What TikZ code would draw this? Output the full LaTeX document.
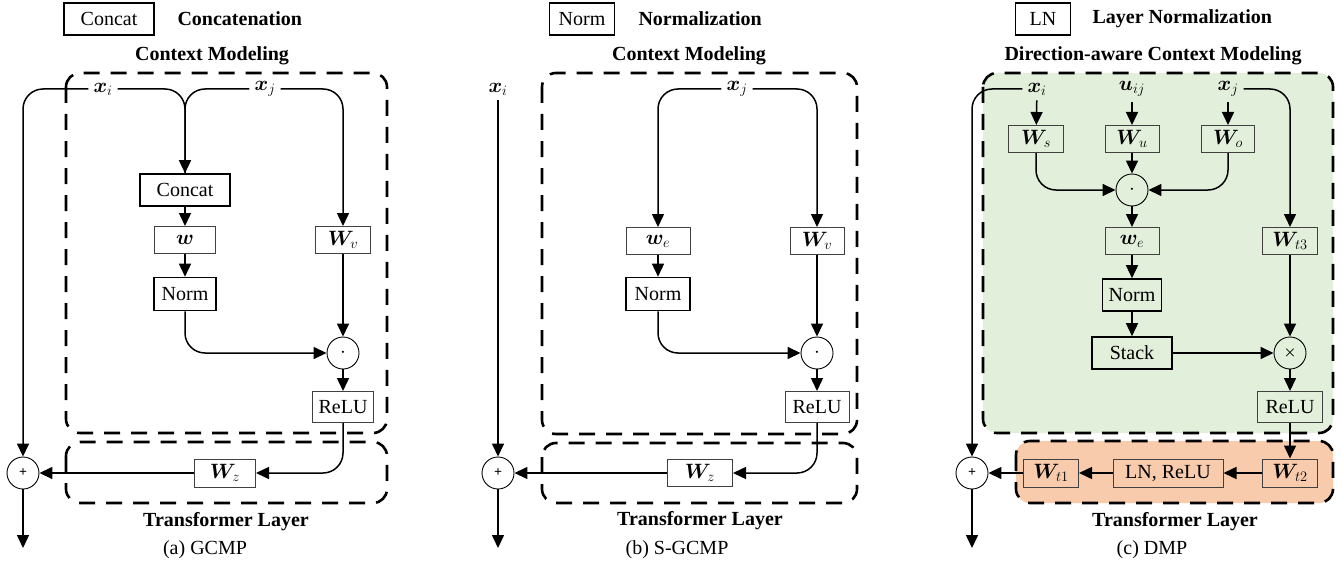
\documentclass[tikz,border=0pt]{standalone}
\usepackage{amsmath}
\usepackage{bm}
\usepackage{fontspec}
\setmainfont{Liberation Serif}
\usetikzlibrary{arrows.meta}
\definecolor{bgGreen}{HTML}{E2EFDA}
\definecolor{bgOrange}{HTML}{F7CBAC}
\begin{document}
\begin{tikzpicture}[x=1pt,y=-1pt,
  every node/.style={font=\fontsize{20}{24}\selectfont},
  thickbox/.style={draw, line width=1.6pt, minimum height=32pt, inner sep=0pt},
  thinbox/.style={draw=black!75, line width=1pt, minimum height=27pt, inner sep=0pt},
  mth/.style={font=\fontsize{22}{24}\selectfont},
  opcirc/.style={circle, draw, line width=0.9pt, minimum size=32pt, inner sep=0pt},
  lbl/.style={inner sep=5pt, font=\fontsize{22}{24}\selectfont},
  title/.style={font=\fontsize{20}{24}\selectfont\bfseries},
  smallop/.style={font=\fontsize{14}{14}\selectfont},
  arr/.style={line width=1.5pt, -{Triangle[length=13pt,width=12pt]}},
  ln/.style={line width=1.5pt},
  region/.style={line width=2.6pt, dash pattern=on 16pt off 11pt, rounded corners=14pt},
  rc/.style={rounded corners=20pt},
]
\useasboundingbox (0,0) rectangle (1343,567);

% ================= (a) GCMP =================
\draw[region] (66,73) rectangle (387,433);
\draw[region] (66,442) rectangle (387,503);
\node[thickbox, minimum width=90pt] (legA) at (109,19) {Concat};
\node[title, anchor=west] (legAt) at (174,19) {Concatenation};
\node[title] (cmA) at (212,56) {Context Modeling};
\node[lbl] (xiA) at (103,89) {$\bm{x}_i$};
\node[lbl] (xjA) at (265,89) {$\bm{x}_j$};
\node[thickbox, minimum width=90pt] (concatA) at (185,190) {Concat};
\node[thinbox, mth, minimum width=61pt] (wA) at (185,240) {$\bm{w}$};
\node[thinbox, mth, minimum width=55pt] (wvA) at (343,240) {$\bm{W}_v$};
\node[thickbox, minimum width=62pt, minimum height=33pt] (normA) at (185,294) {Norm};
\node[opcirc] (dotA) at (343,353) {$\cdot$};
\node[thinbox, minimum width=61pt, minimum height=31pt] (reluA) at (343,407) {ReLU};
\node[thinbox, mth, minimum width=61pt, minimum height=28pt] (wzA) at (225,473) {$\bm{W}_z$};
\node[opcirc, smallop] (plusA) at (23,473) {\textbf{+}};
\coordinate (outA) at (23,548);
\node[title] (tlA) at (226,522) {Transformer Layer};
\node (capA) at (205,550) {(a) GCMP};

\draw[arr, rc] (xiA.west) -| (plusA.north);
\draw[arr, rc] (xiA.east) -| (concatA.north);
\draw[ln, rc] (xjA.west) -| (concatA.north);
\draw[arr, rc] (xjA.east) -| (wvA.north);
\draw[arr] (concatA) -- (wA);
\draw[arr] (wA) -- (normA);
\draw[arr, rc] (normA.south) |- (dotA.west);
\draw[arr] (wvA) -- (dotA);
\draw[arr] (dotA) -- (reluA);
\draw[arr, rc] (reluA.south) |- (wzA.east);
\draw[arr] (wzA) -- (plusA);
\draw[arr] (plusA) -- (outA);

% ================= (b) S-GCMP =================
\draw[region] (542,73) rectangle (857,434);
\draw[region] (542,443) rectangle (857,503);
\node[thickbox, minimum width=65pt] (legB) at (582,19) {Norm};
\node[title, anchor=west] (legBt) at (635,19) {Normalization};
\node[title] (cmB) at (689,56) {Context Modeling};
\node[lbl] (xiB) at (498,89) {$\bm{x}_i$};
\node[lbl] (xjB) at (737,89) {$\bm{x}_j$};
\node[thinbox, mth, minimum width=64pt] (weB) at (658,241) {$\bm{w}_e$};
\node[thinbox, mth, minimum width=54pt] (wvB) at (817,241) {$\bm{W}_v$};
\node[thickbox, minimum width=64pt, minimum height=33pt] (normB) at (658,294) {Norm};
\node[opcirc] (dotB) at (817,353) {$\cdot$};
\node[thinbox, minimum width=64pt, minimum height=31pt] (reluB) at (817,407) {ReLU};
\node[thinbox, mth, minimum width=65pt, minimum height=27pt] (wzB) at (700,473) {$\bm{W}_z$};
\node[opcirc, smallop] (plusB) at (498,473) {\textbf{+}};
\coordinate (outB) at (498,548);
\node[title] (tlB) at (700,521) {Transformer Layer};
\node (capB) at (677,550) {(b) S-GCMP};

\draw[arr] (xiB) -- (plusB);
\draw[arr, rc] (xjB.west) -| (weB.north);
\draw[arr, rc] (xjB.east) -| (wvB.north);
\draw[arr] (weB) -- (normB);
\draw[arr, rc] (normB.south) |- (dotB.west);
\draw[arr] (wvB) -- (dotB);
\draw[arr] (dotB) -- (reluB);
\draw[arr, rc] (reluB.south) |- (wzB.east);
\draw[arr] (wzB) -- (plusB);
\draw[arr] (plusB) -- (outB);

% ================= (c) DMP =================
\draw[region, fill=bgGreen] (983,73) rectangle (1333,433);
\draw[region, fill=bgOrange] (1016,441) rectangle (1333,503);
\node[thickbox, minimum width=55pt] (legC) at (1043,19) {LN};
\node[title, anchor=west] (legCt) at (1089,19) {Layer Normalization};
\node[title] (cmC) at (1153,56) {Direction-aware Context Modeling};
\node[lbl] (xiC) at (1037,89) {$\bm{x}_i$};
\node[lbl] (uC) at (1132,89) {$\bm{u}_{ij}$};
\node[lbl] (xjC) at (1228,89) {$\bm{x}_j$};
\node[thinbox, mth, minimum width=55pt] (wsC) at (1036,139) {$\bm{W}_s$};
\node[thinbox, mth, minimum width=54pt] (wuC) at (1132,139) {$\bm{W}_u$};
\node[thinbox, mth, minimum width=53pt] (woC) at (1228,139) {$\bm{W}_o$};
\node[opcirc] (dotC) at (1132,190) {$\cdot$};
\node[thinbox, mth, minimum width=54pt] (weC) at (1132,241) {$\bm{w}_e$};
\node[thickbox, minimum width=59pt] (normC) at (1132,295) {Norm};
\node[thickbox, minimum width=80pt] (stackC) at (1132,353) {Stack};
\node[thinbox, mth, minimum width=55pt] (wtthreeC) at (1290,241) {$\bm{W}_{t3}$};
\node[opcirc, smallop] (timesC) at (1290,353) {$\bm{\times}$};
\node[thinbox, minimum width=65pt, minimum height=31pt] (reluC) at (1290,407) {ReLU};
\node[thinbox, mth, minimum width=55pt, minimum height=28pt] (wttwoC) at (1290,473) {$\bm{W}_{t2}$};
\node[thinbox, minimum width=110pt, minimum height=28pt] (lnC) at (1168,473) {LN, ReLU};
\node[thinbox, mth, minimum width=55pt, minimum height=28pt] (wtoneC) at (1051,473) {$\bm{W}_{t1}$};
\node[opcirc, smallop] (plusC) at (972,473) {\textbf{+}};
\coordinate (outC) at (972,548);
\node[title] (tlC) at (1175,522) {Transformer Layer};
\node (capC) at (1152,550) {(c) DMP};

\draw[arr, rc] (xiC.west) -| (plusC.north);
\draw[arr] (xiC) -- (wsC);
\draw[arr] (uC) -- (wuC);
\draw[arr] (xjC) -- (woC);
\draw[arr, rc] (xjC.east) -| (wtthreeC.north);
\draw[arr, rc] (wsC.south) |- (dotC.west);
\draw[arr] (wuC) -- (dotC);
\draw[arr, rc] (woC.south) |- (dotC.east);
\draw[arr] (dotC) -- (weC);
\draw[arr] (weC) -- (normC);
\draw[arr] (normC) -- (stackC);
\draw[arr] (stackC) -- (timesC);
\draw[arr] (wtthreeC) -- (timesC);
\draw[arr] (timesC) -- (reluC);
\draw[arr] (reluC) -- (wttwoC);
\draw[arr] (wttwoC) -- (lnC);
\draw[arr] (lnC) -- (wtoneC);
\draw[arr] (wtoneC) -- (plusC);
\draw[arr] (plusC) -- (outC);
\end{tikzpicture}
\end{document}
